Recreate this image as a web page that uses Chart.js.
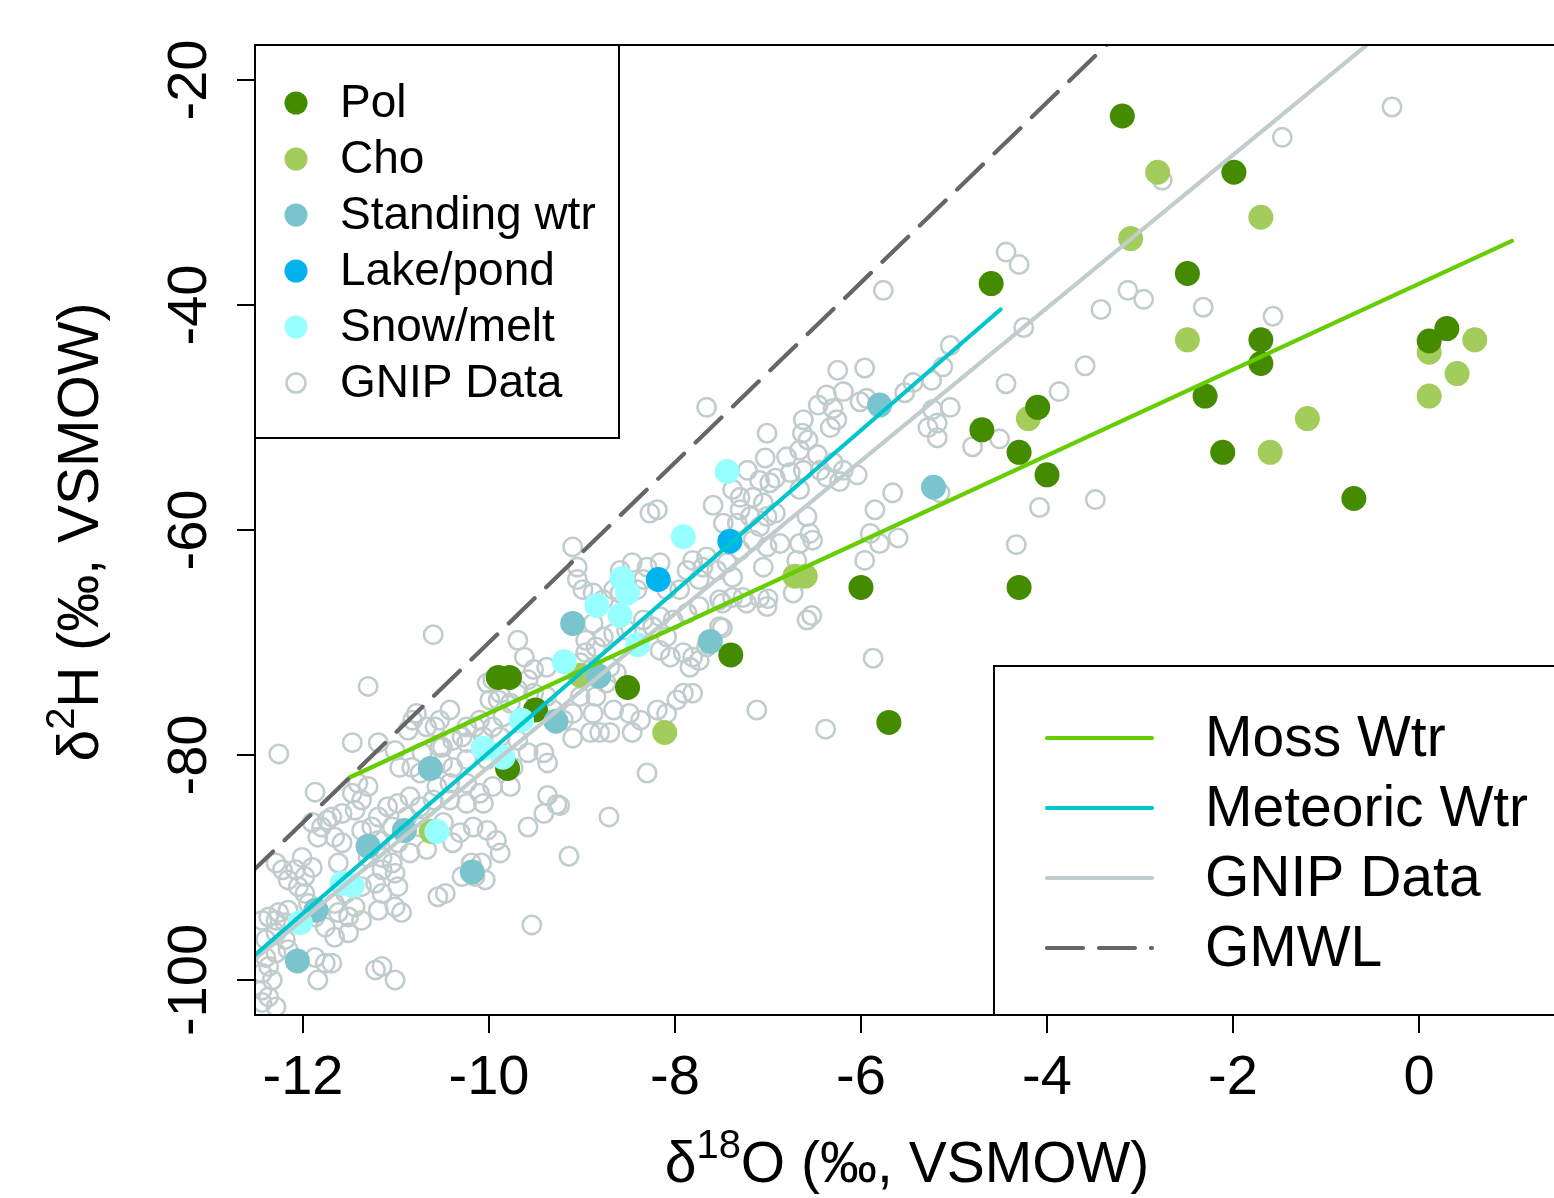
<!DOCTYPE html>
<html>
<head>
<meta charset="utf-8">
<script src="https://cdn.jsdelivr.net/npm/chart.js@4.4.1/dist/chart.umd.min.js"></script>
<style>
  html, body { margin: 0; padding: 0; background: #fff; }
  #wrap { width: 1554px; height: 1198px; }
</style>
</head>
<body>
<div id="wrap"><canvas id="isoChart" width="1554" height="1198"></canvas></div>
<script>
// tick labels
var xTicks = [-12, -10, -8, -6, -4, -2, 0];
var yTicks = [-100, -80, -60, -40, -20];

// sample series, [d18O, d2H]
var pol = [[-3.19,-23.2],[-1.99,-28.2],[-2.49,-37.2],[-4.60,-38.1],[-1.70,-43.1],[-1.70,-45.2],[0.11,-43.2],[0.30,-42.1],
  [-2.30,-48.1],[-4.10,-49.1],[-4.70,-51.1],[-4.30,-53.1],[-4.00,-55.1],[-2.11,-53.1],[-0.70,-57.2],[-6.00,-65.1],
  [-4.30,-65.1],[-7.40,-71.1],[-8.51,-74.0],[-9.90,-73.1],[-9.78,-73.1],[-9.50,-76.0],[-9.80,-81.2],[-5.70,-77.1]];
var cho = [[-2.81,-28.2],[-1.70,-32.2],[-3.10,-34.1],[-2.49,-43.1],[0.11,-44.2],[0.60,-43.1],[0.41,-46.1],[0.11,-48.1],
  [-1.20,-50.1],[-4.20,-50.1],[-1.60,-53.1],[-6.71,-64.1],[-6.60,-64.1],[-8.11,-78.0],[-9.02,-72.9],[-10.62,-86.8]];
var standing = [[-5.80,-48.9],[-5.22,-56.2],[-9.10,-68.3],[-7.62,-69.9],[-8.82,-73.0],[-9.28,-77.0],[-10.63,-81.2],
  [-10.91,-86.7],[-11.30,-88.1],[-10.18,-90.4],[-11.86,-93.8],[-12.06,-98.3]];
var lake = [[-7.41,-61.0],[-8.18,-64.4]];
var snow = [[-7.44,-54.8],[-7.91,-60.6],[-8.57,-64.3],[-8.51,-65.6],[-8.84,-66.7],[-8.59,-67.6],[-8.40,-70.2],[-9.19,-71.7],
  [-9.65,-76.9],[-10.06,-79.4],[-9.85,-80.2],[-10.56,-86.8],[-11.58,-91.4],[-11.47,-91.6],[-12.03,-94.9]];

// GNIP precipitation data
var gnip = [
  [-0.29,-22.4],[-1.47,-25.1],[-2.76,-28.9],[-4.44,-35.3],[-4.30,-36.4],[-3.13,-38.7],[-2.96,-39.5],[-3.42,-40.4],
  [-2.32,-40.2],[-1.57,-41.0],[-4.25,-42.0],[-5.04,-43.6],[-3.59,-45.4],[-4.44,-47.0],[-3.87,-47.7],[-4.80,-52.6],
  [-4.51,-51.9],[-4.08,-58.0],[-3.48,-57.3],[-4.33,-61.3],[-5.76,-38.7],[-5.15,-56.7],
  [-5.12,-45.5],[-5.24,-46.7],[-5.44,-46.9],[-5.53,-47.8],[-5.96,-45.6],[-6.25,-45.8],[-6.19,-47.7],[-6.37,-48.0],
  [-6.46,-48.9],[-6.30,-49.2],[-6.26,-50.2],[-6.33,-50.9],[-6.62,-50.2],[-6.63,-51.4],[-6.57,-52.0],[-7.01,-51.4],
  [-6.80,-53.5],[-6.66,-52.9],[-6.47,-53.3],[-7.03,-53.6],[-7.22,-54.7],[-7.09,-55.6],[-6.98,-55.8],[-6.92,-55.4],
  [-6.76,-54.9],[-6.62,-54.7],[-6.44,-54.7],[-6.30,-54.0],[-6.19,-54.7],[-6.04,-55.1],[-6.23,-55.7],[-6.37,-55.3],
  [-6.66,-56.4],[-7.38,-56.4],[-7.30,-57.1],[-7.16,-57.1],[-7.05,-57.6],[-7.30,-58.2],[-7.19,-58.8],[-7.01,-58.8],
  [-6.92,-58.5],[-7.33,-59.4],[-7.09,-59.7],[-7.16,-60.9],[-6.87,-61.2],[-6.66,-61.2],[-6.55,-60.3],[-6.52,-60.9],
  [-6.69,-62.7],[-7.05,-63.3],[-5.23,-49.3],[-5.04,-49.1],[-5.18,-50.5],[-5.28,-50.9],[-5.18,-51.8],[-5.66,-56.7],
  [-5.85,-58.2],[-5.90,-60.3],[-5.80,-61.2],[-5.60,-60.7],[-5.96,-62.7],[-6.01,-48.6],[-5.94,-48.3],
  [-7.49,-66.5],[-7.27,-66.0],[-7.00,-66.1],[-6.73,-65.6],[-6.53,-67.6],[-7.49,-68.7],[-5.87,-71.4],[-7.66,-49.1],
  [-8.27,-58.5],[-8.19,-58.2],[-7.59,-57.8],[-7.66,-62.4],[-7.81,-62.7],[-7.87,-63.6],[-7.74,-64.4],[-7.55,-63.6],
  [-7.95,-65.3],[-8.09,-65.3],[-8.34,-64.4],[-8.41,-65.3],[-8.52,-64.7],[-8.59,-65.6],[-8.66,-65.3],[-8.77,-66.2],
  [-8.88,-65.6],[-8.99,-65.3],[-9.10,-61.5],[-9.05,-63.3],[-9.05,-64.4],[-8.88,-68.3],[-8.77,-69.5],[-8.66,-69.2],
  [-8.52,-68.9],[-8.34,-68.0],[-8.24,-68.6],[-8.16,-67.7],[-8.02,-68.0],[-7.87,-67.4],[-7.74,-66.8],[-7.52,-66.2],
  [-8.09,-69.5],[-8.16,-70.7],[-8.05,-71.3],[-7.91,-70.9],[-7.81,-71.3],[-7.74,-71.6],[-7.84,-72.2],[-7.66,-70.4],
  [-8.96,-69.8],[-8.96,-70.9],[-8.85,-70.4],[-9.02,-71.8],[-8.88,-72.2],[-8.70,-72.2],[-8.63,-72.7],[-8.74,-73.6],
  [-8.85,-74.8],[-9.02,-74.8],[-9.10,-76.3],[-8.88,-76.3],[-8.66,-76.0],[-8.49,-76.3],[-8.37,-76.9],[-8.19,-76.0],
  [-8.09,-76.3],[-7.91,-74.5],[-7.98,-75.1],[-7.81,-74.5],[-7.52,-68.6],[-8.59,-63.6],[-8.46,-62.9],[-8.30,-63.3],
  [-8.16,-62.9],[-7.70,-63.3],[-7.38,-66.0],[-7.23,-66.5],[-7.09,-66.0],[-7.01,-66.8],[-6.58,-68.0],[-7.12,-76.0],
  [-7.44,-62.9],[-7.38,-64.2],[-7.30,-61.8],[-7.01,-61.5],[-7.48,-59.4],[-6.58,-58.8],
  [-6.38,-77.7],[-8.30,-81.6],[-8.71,-85.5],[-9.14,-89.0],[-9.24,-84.5],[-8.46,-78.0],[-8.70,-78.0],[-8.81,-78.0],
  [-8.91,-78.0],[-9.10,-78.5],
  [-10.60,-69.3],[-9.69,-69.8],[-9.62,-71.3],[-9.52,-72.4],[-9.58,-73.3],[-9.38,-72.2],[-9.31,-76.0],[-9.38,-74.8],
  [-9.52,-74.5],[-9.69,-74.2],[-9.88,-74.5],[-9.99,-75.1],[-10.02,-73.6],[-9.96,-73.3],[-9.77,-75.4],[-9.85,-76.6],
  [-9.96,-77.5],[-10.10,-76.9],[-10.24,-77.5],[-10.42,-76.0],[-10.53,-76.9],[-10.67,-77.5],[-10.82,-76.9],[-10.78,-76.3],
  [-10.39,-78.7],[-10.53,-79.3],[-10.24,-78.9],[-10.06,-78.4],[-9.88,-78.4],[-9.69,-78.7],[-9.58,-79.8],[-9.41,-79.8],
  [-9.37,-80.7],[-9.74,-81.1],[-10.02,-80.4],[-10.24,-80.4],[-10.39,-81.1],[-10.56,-82.8],[-10.42,-82.5],[-10.24,-82.5],
  [-10.10,-83.4],[-9.96,-82.8],[-9.77,-82.8],[-10.24,-84.3],[-10.06,-84.3],[-10.42,-84.0],[-10.60,-84.0],[-10.74,-84.6],
  [-10.85,-83.7],[-10.88,-85.5],[-10.74,-86.4],[-10.49,-86.0],[-10.31,-86.9],[-10.17,-86.4],[-10.02,-86.7],[-9.92,-87.6],
  [-10.39,-87.8],[-10.67,-88.4],[-10.85,-88.7],[-9.88,-88.7],[-9.37,-83.6],[-9.27,-84.4],[-9.41,-85.2],[-9.58,-86.4],
  [-10.74,-81.6],[-10.96,-81.1],[-9.31,-76.9],[-9.20,-76.9],
  [-11.87,-83.3],[-11.41,-82.5],[-11.30,-82.8],[-11.47,-83.4],[-11.37,-84.0],[-11.44,-84.9],[-11.58,-85.2],[-11.69,-85.5],
  [-11.80,-86.4],[-11.90,-86.0],[-11.66,-87.3],[-11.58,-87.8],[-11.37,-86.7],[-11.26,-86.4],[-11.19,-85.5],[-11.09,-84.6],
  [-10.98,-84.3],[-11.04,-86.4],[-10.98,-87.8],[-11.19,-87.6],[-11.30,-89.1],[-11.15,-89.1],[-11.04,-89.6],[-11.15,-90.2],
  [-11.01,-90.5],[-11.22,-91.4],[-11.15,-92.3],[-10.98,-91.7],[-11.37,-91.7],[-11.54,-92.3],[-11.66,-93.2],[-11.62,-94.0],
  [-11.51,-94.4],[-11.44,-93.5],[-11.37,-94.7],[-11.19,-93.8],[-11.01,-93.5],[-10.94,-94.0],[-11.51,-95.8],[-11.76,-95.3],
  [-11.66,-96.2],[-11.87,-94.4],[-11.94,-93.2],[-11.98,-92.3],[-12.05,-91.7],[-12.16,-91.1],[-12.22,-90.2],[-12.29,-89.6],
  [-12.01,-89.1],[-11.90,-90.0],[-12.08,-90.2],[-11.98,-90.8],[-12.16,-93.8],[-12.26,-94.0],[-12.37,-94.4],[-12.44,-94.7],
  [-12.29,-94.7],[-12.19,-94.9],[-12.40,-96.4],[-12.29,-95.8],[-12.19,-96.4],[-12.16,-97.3],[-12.29,-97.6],[-12.40,-98.0],
  [-12.37,-98.8],[-12.44,-99.4],[-12.33,-100.0],[-12.44,-100.9],[-12.37,-101.5],[-12.44,-102.0],[-12.29,-102.4],
  [-11.87,-98.0],[-11.76,-98.5],[-11.84,-100.0],[-11.69,-98.5],[-11.22,-99.1],[-11.15,-98.8],[-11.01,-100.0],
  [-10.55,-92.6],[-10.47,-92.3],[-10.29,-90.8],[-10.15,-90.8],[-10.04,-91.1],[-10.08,-89.6],[-10.19,-89.6],
  [-11.62,-89.6],[-11.84,-87.3],[-11.74,-85.8],
  [-11.30,-73.9],[-12.26,-79.9],[-11.47,-78.9],[-11.19,-78.9],[-10.58,-77.5],[-10.87,-77.8],[-11.01,-79.6],[-10.72,-79.8],
  [-10.50,-79.3],[-10.29,-78.4],[-10.15,-77.5],[-9.90,-75.1],[-10.83,-81.1],[-10.50,-80.7],[-10.08,-79.3],[-9.54,-95.1]
];

// fitted lines, end points
var mossFit = [[-11.5,-82.0],[1.0,-34.3]];
var meteoricFit = [[-12.52,-97.8],[-4.5,-40.4]];
var gnipFit = [[-12.6,-98.7],[-0.4,-15.8]];
var gmwl = [[-12.6,-90.8],[-3.0,-14.0]];

var FONT = '"Liberation Sans", Arial, Helvetica, sans-serif';

function pts(arr) {
  return arr.map(function (p) { return { x: p[0], y: p[1] }; });
}

function dots(label, arr, color, order) {
  return {
    label: label, data: pts(arr), order: order, clip: 0,
    pointRadius: 12.5, pointBorderWidth: 0,
    pointBackgroundColor: color, pointBorderColor: color
  };
}

function fitLine(label, arr, color, dash, order) {
  return {
    type: 'line', label: label, data: pts(arr), order: order, clip: 0,
    showLine: true, fill: false, pointRadius: 0,
    borderColor: color, borderWidth: 4.2, borderDash: dash,
    borderCapStyle: 'round'
  };
}

var datasets = [
  {
    label: 'GNIP Data', data: pts(gnip), order: 9, clip: 0,
    pointRadius: 9.2, pointBorderWidth: 2.6,
    pointBackgroundColor: 'rgba(0,0,0,0)', pointBorderColor: '#c1cdcd', isOpen: true
  },
  dots('Cho', cho, '#a2cd5a', 8),
  dots('Pol', pol, '#458b00', 7),
  dots('Standing wtr', standing, '#7ac5cd', 6),
  dots('Lake/pond', lake, '#00b2ee', 5),
  dots('Snow/melt', snow, '#97ffff', 4),
  fitLine('GNIP Data', gnipFit, '#c1cdcd', [], 3),
  fitLine('Moss Wtr', mossFit, '#66cd00', [], 2),
  fitLine('Meteoric Wtr', meteoricFit, '#00c5cd', [], 1),
  fitLine('GMWL', gmwl, '#666666', [36, 16], 0)
];

// legend rows in the order they appear in the figure
var pointLegend = ['Pol', 'Cho', 'Standing wtr', 'Lake/pond', 'Snow/melt', 'GNIP Data'];
var lineLegend = ['Moss Wtr', 'Meteoric Wtr', 'GNIP Data', 'GMWL'];

function findSet(label, isLine) {
  return datasets.filter(function (d) { return d.label === label && (d.type === 'line') === isLine; })[0];
}

// draw text with a raised superscript, centred on 0
function supText(ctx, parts, size) {
  var w = 0;
  parts.forEach(function (p) {
    ctx.font = (p.sup ? size * 0.7 : size) + 'px ' + FONT;
    p.w = ctx.measureText(p.t).width;
    w += p.w;
  });
  var x = -w / 2;
  parts.forEach(function (p) {
    ctx.font = (p.sup ? size * 0.7 : size) + 'px ' + FONT;
    ctx.fillText(p.t, x, p.sup ? -size * 0.42 : 0);
    x += p.w;
  });
}

var decorPlugin = {
  id: 'decor',
  afterDraw: function (chart) {
    var ctx = chart.ctx;
    var a = chart.chartArea;
    var ys = chart.scales.y;
    ctx.save();
    ctx.fillStyle = '#000';
    ctx.strokeStyle = '#000';

    // y tick labels, written upward like R
    ctx.font = '56px ' + FONT;
    ctx.textAlign = 'center';
    ctx.textBaseline = 'alphabetic';
    yTicks.forEach(function (v) {
      ctx.save();
      ctx.translate(206, ys.getPixelForValue(v));
      ctx.rotate(-Math.PI / 2);
      ctx.fillText(String(v), 0, 0);
      ctx.restore();
    });

    // axis titles
    ctx.textAlign = 'left';
    ctx.save();
    ctx.translate(907, 1182);
    supText(ctx, [{ t: '\u03b4' }, { t: '18', sup: true }, { t: 'O (\u2030, VSMOW)' }], 57);
    ctx.restore();
    ctx.save();
    ctx.translate(98, 532);
    ctx.rotate(-Math.PI / 2);
    supText(ctx, [{ t: '\u03b4' }, { t: '2', sup: true }, { t: 'H (\u2030, VSMOW)' }], 57);
    ctx.restore();

    // point legend
    ctx.lineWidth = 2;
    ctx.fillStyle = '#fff';
    ctx.fillRect(a.left, a.top, 364, 393);
    ctx.strokeRect(a.left, a.top, 364, 393);
    ctx.font = '46px ' + FONT;
    ctx.textBaseline = 'middle';
    pointLegend.forEach(function (lab, i) {
      var d = findSet(lab, false);
      var y = 103 + i * 56;
      ctx.beginPath();
      if (d.isOpen) {
        ctx.arc(296, y, 9.5, 0, Math.PI * 2);
        ctx.lineWidth = 2.6;
        ctx.strokeStyle = d.pointBorderColor;
        ctx.stroke();
      } else {
        ctx.arc(296, y, 11.5, 0, Math.PI * 2);
        ctx.fillStyle = d.pointBackgroundColor;
        ctx.fill();
      }
      ctx.fillStyle = '#000';
      ctx.fillText(lab, 340, y + 1);
    });

    // line legend
    ctx.strokeStyle = '#000';
    ctx.lineWidth = 2;
    ctx.fillStyle = '#fff';
    ctx.fillRect(994, 666, 600, a.bottom - 666);
    ctx.strokeRect(994, 666, 600, a.bottom - 666);
    ctx.font = '57px ' + FONT;
    lineLegend.forEach(function (lab, i) {
      var d = findSet(lab, true);
      var y = 738 + i * 70;
      ctx.beginPath();
      ctx.setLineDash(d.borderDash);
      ctx.lineCap = 'round';
      ctx.lineWidth = 4.2;
      ctx.strokeStyle = d.borderColor;
      ctx.moveTo(1047, y);
      ctx.lineTo(1152, y);
      ctx.stroke();
      ctx.setLineDash([]);
      ctx.fillStyle = '#000';
      ctx.fillText(lab, 1205, y + 2);
    });

    // plot box (right side runs off the page)
    ctx.strokeStyle = '#000';
    ctx.lineWidth = 2;
    ctx.strokeRect(a.left, a.top, a.right - a.left + 20, a.bottom - a.top);
    ctx.restore();
  }
};

function noPad(s) {
  s.paddingLeft = 0;
  s.paddingRight = 0;
  s.paddingTop = 0;
  s.paddingBottom = 0;
}

var ctx = document.getElementById('isoChart').getContext('2d');
var isoChart = new Chart(ctx, {
  type: 'scatter',
  data: { datasets: datasets },
  options: {
    responsive: false,
    animation: false,
    events: [],
    layout: { autoPadding: false, padding: { top: 45, right: 0, left: 0, bottom: 0 } },
    plugins: { legend: { display: false }, tooltip: { enabled: false } },
    scales: {
      x: {
        type: 'linear', min: -12.516, max: 1.452,
        afterFit: function (s) { s.height = 183; noPad(s); },
        afterBuildTicks: function (s) { s.ticks = xTicks.map(function (v) { return { value: v }; }); },
        border: { display: false },
        grid: { drawOnChartArea: false, drawTicks: true, tickLength: 18, color: '#000', lineWidth: 2 },
        ticks: {
          color: '#000', padding: 12, maxRotation: 0,
          font: { family: FONT, size: 56 },
          callback: function (v) { return String(v); }
        }
      },
      y: {
        type: 'linear', min: -103.11, max: -16.89,
        afterFit: function (s) { s.width = 255; noPad(s); },
        afterBuildTicks: function (s) { s.ticks = yTicks.map(function (v) { return { value: v }; }); },
        border: { display: false },
        grid: { drawOnChartArea: false, drawTicks: true, tickLength: 18, color: '#000', lineWidth: 2 },
        ticks: { display: false }
      }
    }
  },
  plugins: [decorPlugin]
});
</script>
</body>
</html>
